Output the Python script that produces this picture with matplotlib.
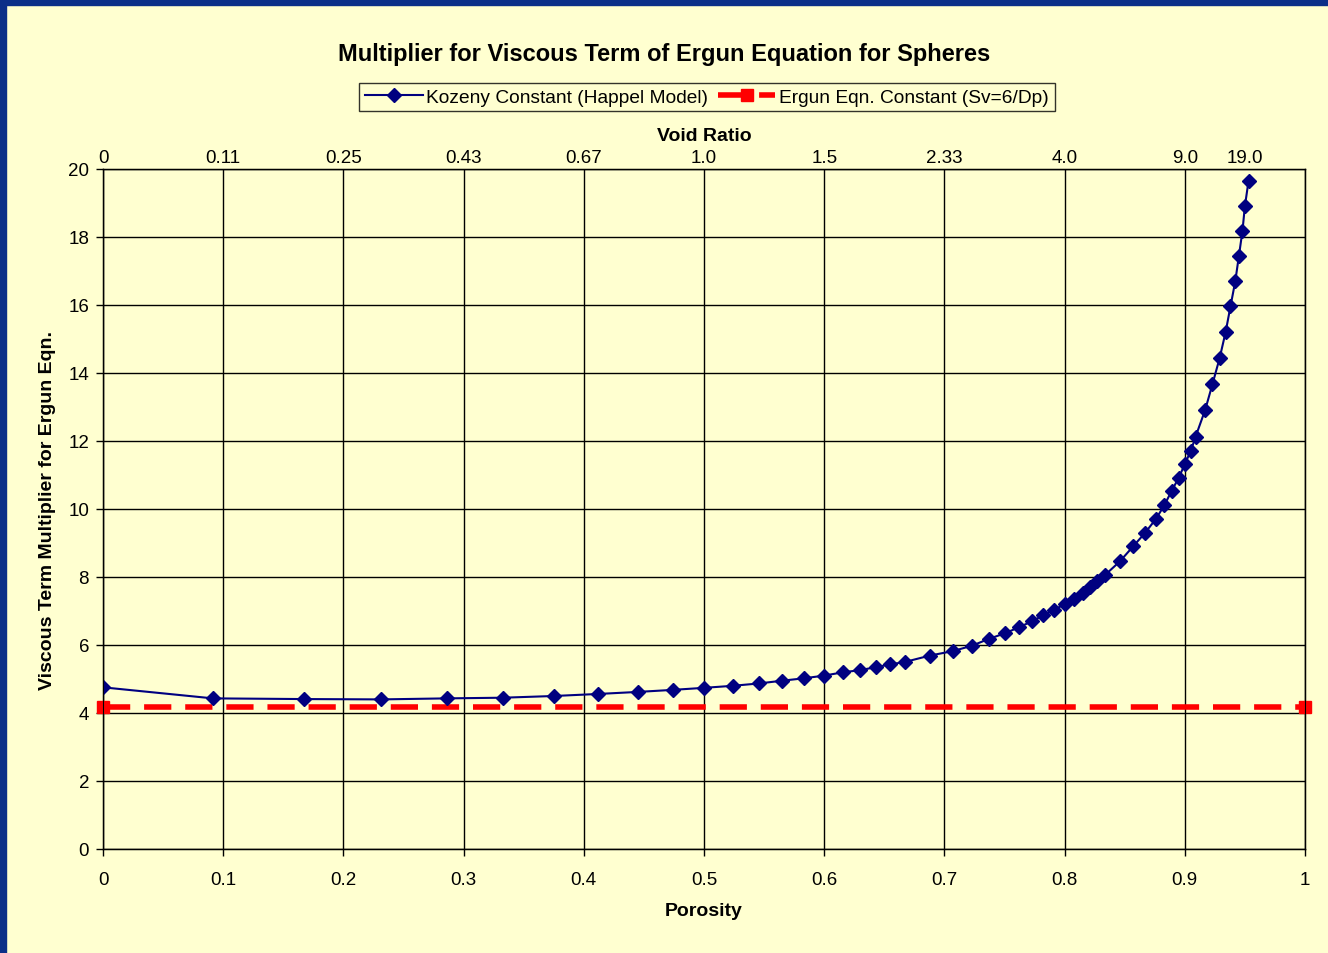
import matplotlib
matplotlib.use("Agg")
import matplotlib.pyplot as plt
from matplotlib.patches import Rectangle

plt.rcParams['font.family'] = ['Liberation Sans', 'DejaVu Sans']

# porosity vs Kozeny constant (Happel model)
porosity = [0.0, 0.0915, 0.167, 0.231, 0.286, 0.333, 0.375, 0.412, 0.445, 0.474,
            0.500, 0.524, 0.546, 0.565, 0.583, 0.600, 0.616, 0.630, 0.643, 0.655,
            0.667, 0.688, 0.707, 0.723, 0.737, 0.750, 0.762, 0.773, 0.782, 0.791,
            0.800, 0.808, 0.815, 0.821, 0.827, 0.834, 0.846, 0.857, 0.867, 0.876,
            0.883, 0.889, 0.895, 0.900, 0.905, 0.909, 0.917, 0.923, 0.929, 0.934,
            0.938, 0.942, 0.945, 0.948, 0.950, 0.953]
kozeny = [4.755, 4.43, 4.41, 4.40, 4.43, 4.45, 4.50, 4.56, 4.62, 4.68,
          4.74, 4.80, 4.87, 4.95, 5.02, 5.10, 5.20, 5.26, 5.35, 5.43,
          5.50, 5.69, 5.82, 5.98, 6.18, 6.34, 6.52, 6.70, 6.87, 7.03,
          7.20, 7.35, 7.53, 7.70, 7.88, 8.07, 8.46, 8.90, 9.30, 9.71,
          10.11, 10.53, 10.92, 11.32, 11.71, 12.13, 12.92, 13.67, 14.44, 15.21,
          15.96, 16.70, 17.44, 18.19, 18.91, 19.64]

ergun_x = [0.0, 1.0]
ergun_y = [4.1667, 4.1667]

# void ratio labels on the top axis
void_pos = [0.0, 0.1, 0.2, 0.3, 0.4, 0.5, 0.6, 0.7, 0.8, 0.9, 0.95]
void_labels = ['0', '0.11', '0.25', '0.43', '0.67', '1.0', '1.5', '2.33', '4.0', '9.0', '19.0']

bg = '#FFFFD0'
fig = plt.figure(figsize=(13.28, 9.54), dpi=100, facecolor=bg)

# dark blue frame on top and left edge
fig.patches.append(Rectangle((0, 1 - 6/954), 1, 6/954, transform=fig.transFigure,
                             color='#0B2F88', zorder=10))
fig.patches.append(Rectangle((0, 0), 6/1328, 1, transform=fig.transFigure,
                             color='#0B2F88', zorder=10))

ax = fig.add_axes([103/1328, 1 - 850/954, (1305 - 103)/1328, (850 - 170)/954])
ax.set_facecolor(bg)

l1, = ax.plot(porosity, kozeny, color='#000080', lw=1.5, marker='D', ms=7,
              markerfacecolor='#000080', markeredgecolor='#000080',
              label='Kozeny Constant (Happel Model)', zorder=4)
l2, = ax.plot(ergun_x, ergun_y, color='#FF0000', lw=4, ls=(0, (4.9, 2.5)),
              marker='s', ms=8, label='Ergun Eqn. Constant (Sv=6/Dp)',
              zorder=3, clip_on=False)

ax.set_xlim(0, 1)
ax.set_ylim(0, 20)
ax.set_xticks([0, 0.1, 0.2, 0.3, 0.4, 0.5, 0.6, 0.7, 0.8, 0.9, 1])
ax.set_xticklabels(['0', '0.1', '0.2', '0.3', '0.4', '0.5', '0.6', '0.7', '0.8', '0.9', '1'])
ax.set_yticks(range(0, 21, 2))
ax.grid(True, color='black', lw=1)
ax.tick_params(axis='both', labelsize=13.5, length=5, direction='out', width=1, pad=11)
ax.tick_params(axis='y', pad=5)
for s in ax.spines.values():
    s.set_color('black')
    s.set_linewidth(1)

ax.set_xlabel('Porosity', fontsize=14, fontweight='bold', labelpad=10)
ax.set_ylabel('Viscous Term Multiplier for Ergun Eqn.', fontsize=14,
              fontweight='bold', labelpad=9)

top = ax.twiny()
top.set_xlim(0, 1)
top.set_xticks(void_pos)
top.set_xticklabels(void_labels)
top.tick_params(axis='x', labelsize=13.5, length=0, pad=2)
top.set_xlabel('Void Ratio', fontsize=14, fontweight='bold', labelpad=6.5)

fig.text(0.5, 1 - 54/954, 'Multiplier for Viscous Term of Ergun Equation for Spheres',
         ha='center', va='center', fontsize=17, fontweight='bold')

leg = fig.legend(handles=[l1, l2], loc='center', bbox_to_anchor=(707/1328, 1 - 98/954),
                 ncol=2, fontsize=13.8, frameon=True, fancybox=False,
                 facecolor=bg, edgecolor='black', handlelength=3.0,
                 handletextpad=0.2, columnspacing=0.5, borderpad=0.3)
leg.get_frame().set_linewidth(1)

fig.savefig('out.png', dpi=100, facecolor=bg)
